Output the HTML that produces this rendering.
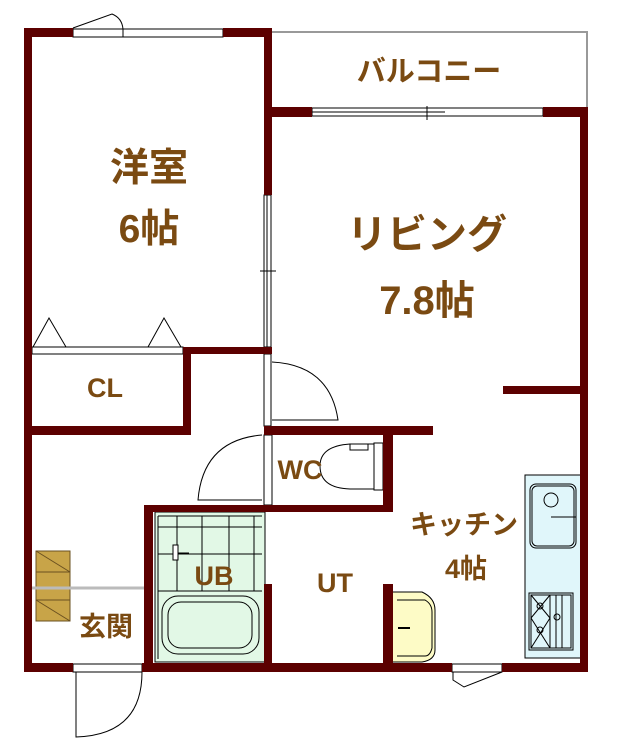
<!DOCTYPE html>
<html><head><meta charset="utf-8"><style>
html,body{margin:0;padding:0;background:#fff;overflow:hidden;}
svg{display:block;}
text{font-family:"Liberation Sans","Noto Sans CJK JP",sans-serif;font-weight:bold;fill:#7a4a12;}
</style></head><body>
<svg width="630" height="748" viewBox="0 0 630 748" xmlns="http://www.w3.org/2000/svg">
<polyline points="268,32 587,32 587,108" fill="none" stroke="#999" stroke-width="2"/>
<!-- UB -->
<rect x="155" y="512" width="110" height="150" fill="#e2f8e6" stroke="#000" stroke-width="1"/>
<g stroke="#000" stroke-width="1" fill="none">
<line x1="158" y1="516" x2="158" y2="659"/>
<line x1="158" y1="516" x2="262" y2="516"/>
<line x1="158" y1="527" x2="262" y2="527"/>
<line x1="158" y1="554" x2="262" y2="554"/>
<line x1="158" y1="591" x2="262" y2="591"/>
<line x1="177" y1="516" x2="177" y2="591"/>
<line x1="202" y1="516" x2="202" y2="591"/>
<line x1="229" y1="516" x2="229" y2="591"/>
<line x1="254" y1="516" x2="254" y2="591"/>
<rect x="162" y="596" width="97" height="58" rx="16"/>
<rect x="168" y="602" width="84" height="46" rx="13"/>
<line x1="177" y1="553" x2="189" y2="553"/>
<rect x="173" y="545" width="5" height="15" fill="#fff"/>
</g>
<!-- kitchen -->
<rect x="525" y="475" width="57" height="183" fill="#e0f6fa" stroke="#000" stroke-width="1"/>
<g stroke="#000" stroke-width="1" fill="none">
<rect x="530" y="484" width="46" height="64" rx="6"/>
<rect x="532" y="486" width="42" height="60" rx="5"/>
<circle cx="551" cy="500" r="7"/>
<line x1="551" y1="517" x2="576" y2="517"/>
<rect x="529" y="593" width="44" height="57"/>
<rect x="531" y="595" width="40" height="53"/>
<line x1="550" y1="595" x2="550" y2="648"/><line x1="556" y1="595" x2="556" y2="648"/><line x1="562" y1="595" x2="562" y2="648"/>
<circle cx="540" cy="606" r="3"/><circle cx="540" cy="630" r="3"/><circle cx="557" cy="617" r="3"/>
<line x1="531" y1="595" x2="550" y2="618"/><line x1="550" y1="595" x2="531" y2="618"/>
<line x1="531" y1="618" x2="550" y2="648"/><line x1="550" y1="618" x2="531" y2="648"/>
</g>
<path d="M392,592 L422,592 Q435,598 435,610 L435,650 Q435,660 422,662 L392,662 Z" fill="#fdfbc6" stroke="#000" stroke-width="1"/>
<path d="M397,600 L425,600 Q432,604 432,612 L432,648 Q430,656 425,656 L397,656" fill="none" stroke="#000" stroke-width="1"/>
<line x1="398" y1="628" x2="410" y2="628" stroke="#000" stroke-width="2"/>
<!-- toilet -->
<path d="M374,444 L350,444 Q320,446 320,466 Q320,488 350,489 L374,489" fill="#fff" stroke="#000" stroke-width="1"/>
<rect x="374" y="443" width="9" height="47" fill="#fff" stroke="#000" stroke-width="1"/>
<rect x="350" y="444" width="18" height="6" fill="#fff" stroke="#000" stroke-width="1"/>
<!-- shoe box -->
<rect x="36" y="551" width="34" height="70" fill="#c8a448" stroke="#6a5020" stroke-width="1"/>
<path d="M36,551 L70,572 M36,600 L70,621 M36,572 L70,572 M36,600 L70,600" stroke="#6a5020" stroke-width="1"/>
<line x1="28" y1="588" x2="148" y2="588" stroke="#bbb" stroke-width="3"/>
<!-- windows/doors -->
<g stroke="#000" stroke-width="1" fill="#fff">
<rect x="73" y="29" width="150" height="8"/>
<line x1="123" y1="29" x2="123" y2="37"/>
<rect x="312" y="108" width="231" height="8"/>
<line x1="312" y1="112" x2="445" y2="112"/><line x1="427" y1="106" x2="427" y2="120"/>
<rect x="264" y="195" width="7" height="152"/>
<line x1="267" y1="195" x2="267" y2="347"/><line x1="260" y1="271" x2="276" y2="271"/>
<rect x="32" y="347" width="151" height="7"/>
<rect x="264" y="354" width="7" height="72"/>
<rect x="264" y="435" width="8" height="70"/>
<rect x="73" y="664" width="69" height="8"/>
<rect x="452" y="664" width="50" height="8"/>
</g>
<g stroke="#000" stroke-width="1" fill="none">
<path d="M73,28 L112,14 Q122,18 123,29"/>
<path d="M33,347 L49,318 L66,347 M148,347 L164,318 L181,347"/>
<path d="M272,362 Q330,365 338,420 L272,420"/>
<path d="M262,435 Q203,440 198,500 L262,500"/>
<path d="M76,672 L76,737 Q142,735 142,672"/>
<path d="M453,672 L453,680 L464,687 L502,672"/>
</g>
<!-- walls -->
<g fill="#5c0000">
<rect x="24" y="28" width="8" height="644"/>
<rect x="24" y="28" width="49" height="9"/>
<rect x="223" y="28" width="49" height="9"/>
<rect x="264" y="28" width="8" height="167"/>
<rect x="264" y="107" width="48" height="10"/>
<rect x="543" y="107" width="45" height="10"/>
<rect x="580" y="107" width="8" height="565"/>
<rect x="503" y="386" width="80" height="8"/>
<rect x="183" y="347" width="89" height="7"/>
<rect x="183" y="347" width="8" height="88"/>
<rect x="32" y="426" width="159" height="9"/>
<rect x="264" y="426" width="169" height="9"/>
<rect x="383" y="435" width="10" height="77"/>
<rect x="144" y="505" width="249" height="7"/>
<rect x="144" y="505" width="9" height="167"/>
<rect x="264" y="584" width="8" height="80"/>
<rect x="383" y="584" width="10" height="80"/>
<rect x="24" y="663" width="49" height="9"/>
<rect x="142" y="663" width="310" height="9"/>
<rect x="502" y="663" width="86" height="9"/>
</g>
<!-- labels -->
<text x="429" y="81" font-size="29" text-anchor="middle">バルコニー</text>
<text x="149" y="181" font-size="39" text-anchor="middle">洋室</text>
<text x="149" y="242" font-size="39" text-anchor="middle">6帖</text>
<text x="427" y="248" font-size="40" text-anchor="middle">リビング</text>
<text x="427" y="314" font-size="40" text-anchor="middle">7.8帖</text>
<text x="105" y="397" font-size="27" text-anchor="middle">CL</text>
<text x="300" y="479" font-size="27" text-anchor="middle">WC</text>
<text x="464" y="534" font-size="27" text-anchor="middle">キッチン</text>
<text x="466" y="578" font-size="27" text-anchor="middle">4帖</text>
<text x="214" y="585" font-size="27" text-anchor="middle">UB</text>
<text x="335" y="592" font-size="27" text-anchor="middle">UT</text>
<text x="106" y="636" font-size="27" text-anchor="middle">玄関</text>
</svg>
</body></html>
